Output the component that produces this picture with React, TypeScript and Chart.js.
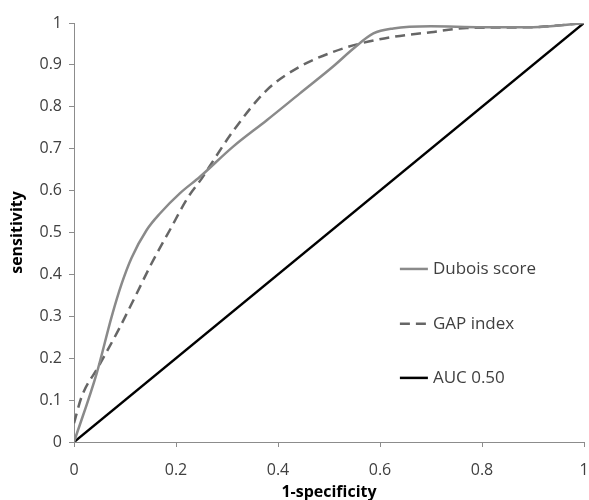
import React, { useEffect, useRef } from "react";
import { Chart, registerables } from "chart.js";

Chart.register(...registerables);

const seriesNames = ["Dubois score", "GAP index", "AUC 0.50"];

const duboisX = [0, 0.0445, 0.074, 0.0935, 0.113, 0.1425, 0.169, 0.208, 0.247, 0.312, 0.378, 0.443, 0.508, 0.548, 0.587, 0.626, 0.7, 0.8, 0.9, 1];
const duboisY = [0, 0.164, 0.3, 0.378, 0.44, 0.506, 0.546, 0.594, 0.633, 0.705, 0.768, 0.832, 0.896, 0.939, 0.975, 0.987, 0.992, 0.99, 0.99, 1];

const gapX = [0, 0.015, 0.048, 0.087, 0.12, 0.152, 0.188, 0.224, 0.25, 0.267, 0.312, 0.378, 0.443, 0.508, 0.561, 0.626, 0.7, 0.77, 0.9, 1];
const gapY = [0.045, 0.108, 0.18, 0.267, 0.347, 0.426, 0.506, 0.585, 0.628, 0.66, 0.742, 0.84, 0.896, 0.931, 0.951, 0.967, 0.978, 0.988, 0.99, 1];

const refX = [0, 1];
const refY = [0, 1];

const xTickLabels = ["0", "0.2", "0.4", "0.6", "0.8", "1"];
const yTickLabels = ["0", "0.1", "0.2", "0.3", "0.4", "0.5", "0.6", "0.7", "0.8", "0.9", "1"];

const xTitle = "1-specificity";
const yTitle = "sensitivity";

const toPoints = (xs: number[], ys: number[]) => xs.map((x, i) => ({ x, y: ys[i] }));

const legendPlugin = {
  id: "customLegend",
  afterDatasetsDraw(chart: any) {
    const { ctx, chartArea } = chart;
    const w = chartArea.right - chartArea.left;
    const h = chartArea.bottom - chartArea.top;
    const x0 = chartArea.left + 0.639 * w;
    const lineLen = 28;
    const fracs = [0.413, 0.282, 0.153];
    ctx.save();
    chart.data.datasets.forEach((ds: any, i: number) => {
      const y = chartArea.bottom - fracs[i] * h;
      ctx.beginPath();
      ctx.strokeStyle = ds.borderColor;
      ctx.lineWidth = ds.borderWidth;
      ctx.setLineDash(ds.borderDash || []);
      ctx.moveTo(x0, y);
      ctx.lineTo(x0 + lineLen, y);
      ctx.stroke();
      ctx.setLineDash([]);
      ctx.fillStyle = "#404040";
      ctx.font = "17px 'Open Sans'";
      ctx.textBaseline = "middle";
      ctx.textAlign = "left";
      ctx.fillText(seriesNames[i], x0 + lineLen + 5, y);
    });
    ctx.restore();
  },
};

export default function App() {
  const ref = useRef<HTMLCanvasElement>(null);
  useEffect(() => {
    document.body.style.margin = "0";
    const chart = new Chart(ref.current!, {
      type: "scatter",
      data: {
        datasets: [
          {
            label: seriesNames[0],
            data: toPoints(duboisX, duboisY),
            showLine: true,
            borderColor: "#8a8a8a",
            borderWidth: 2.5,
            pointRadius: 0,
            cubicInterpolationMode: "monotone",
          },
          {
            label: seriesNames[1],
            data: toPoints(gapX, gapY),
            showLine: true,
            borderColor: "#666666",
            borderWidth: 2.5,
            borderDash: [10, 6],
            pointRadius: 0,
            cubicInterpolationMode: "monotone",
          },
          {
            label: seriesNames[2],
            data: toPoints(refX, refY),
            showLine: true,
            borderColor: "#000000",
            borderWidth: 2.5,
            pointRadius: 0,
          },
        ] as any,
      },
      options: {
        animation: false,
        responsive: false,
        maintainAspectRatio: false,
        layout: { padding: { top: 23, right: 5, left: 0, bottom: 0 } },
        plugins: { legend: { display: false }, tooltip: { enabled: false } },
        scales: {
          x: {
            type: "linear",
            min: 0,
            max: 1,
            ticks: {
              stepSize: 0.2,
              color: "#404040",
              font: { family: "'Open Sans'", size: 16 },
              padding: 14,
              maxRotation: 0,
              callback: (_v: any, i: number) => xTickLabels[i],
            },
            grid: { drawOnChartArea: false, drawTicks: true, tickLength: 5, color: "#8c8c8c" },
            border: { color: "#8c8c8c", width: 1 },
            title: {
              display: true,
              text: xTitle,
              color: "#000000",
              font: { family: "'Open Sans'", size: 16, weight: "bold", lineHeight: 1 },
              padding: { top: 0, bottom: 0 },
            },
            afterFit: (s: any) => {
              s.height = 58;
              s.paddingLeft = 0;
              s.paddingRight = 0;
            },
          },
          y: {
            type: "linear",
            min: 0,
            max: 1,
            ticks: {
              stepSize: 0.1,
              color: "#404040",
              font: { family: "'Open Sans'", size: 16 },
              padding: 7,
              callback: (_v: any, i: number) => yTickLabels[i],
            },
            grid: { drawOnChartArea: false, drawTicks: true, tickLength: 5, color: "#8c8c8c" },
            border: { color: "#8c8c8c", width: 1 },
            title: {
              display: true,
              text: yTitle,
              color: "#000000",
              font: { family: "'Open Sans'", size: 16, weight: "bold", lineHeight: 1 },
              padding: { top: 9, bottom: 0 },
            },
            afterFit: (s: any) => {
              s.width = 74;
            },
          },
        },
      } as any,
      plugins: [legendPlugin],
    });
    return () => chart.destroy();
  }, []);
  return (
    <div style={{ position: "fixed", left: 0, top: 0, width: 589, height: 500, background: "#fff" }}>
      <canvas ref={ref} width={589} height={500} style={{ width: 589, height: 500 }} />
    </div>
  );
}
